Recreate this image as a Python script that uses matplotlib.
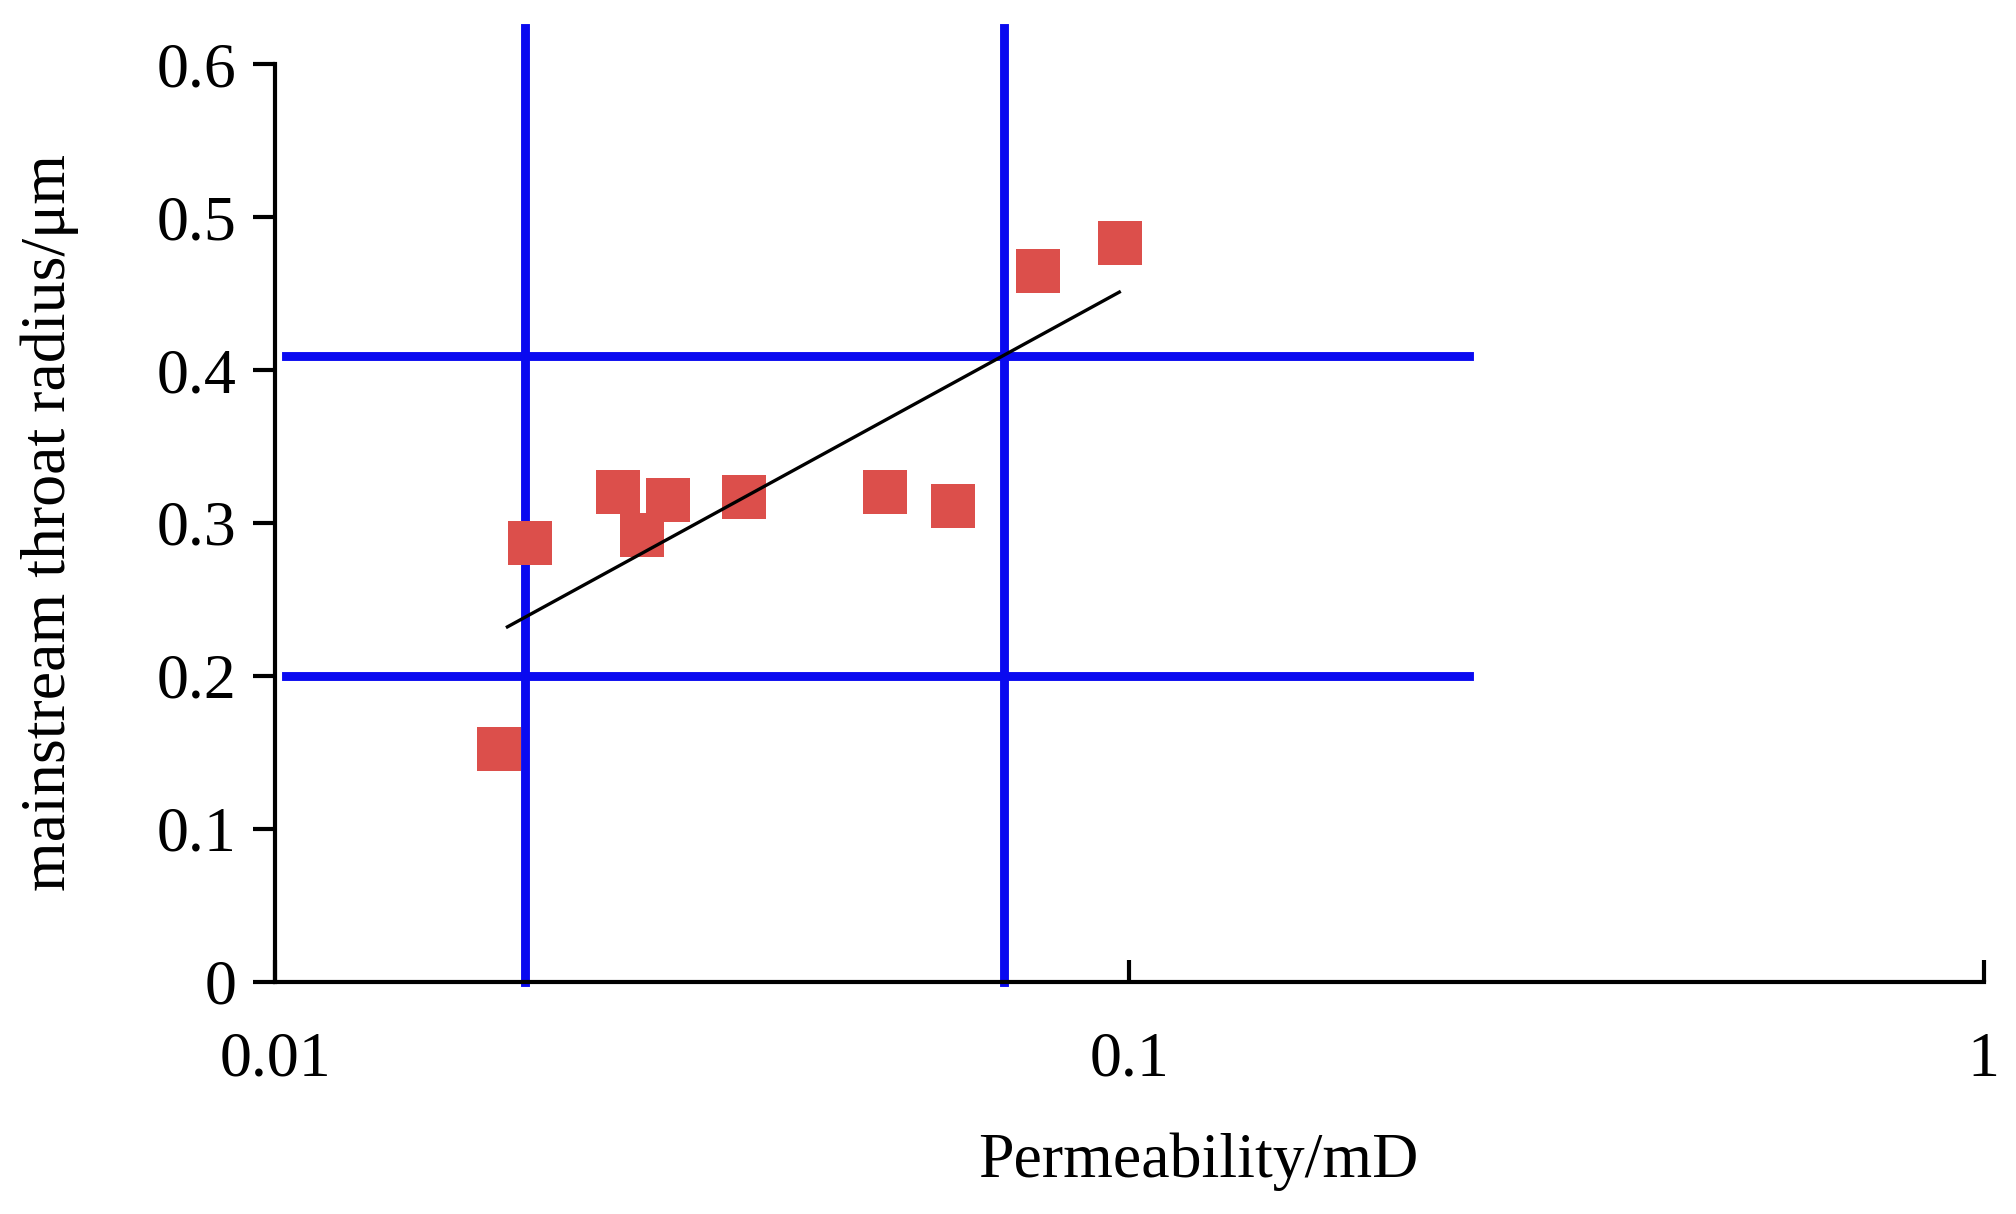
import matplotlib
matplotlib.use("Agg")
import matplotlib.pyplot as plt

perm = [0.0199, 0.0183, 0.0252, 0.0269, 0.0288, 0.0354, 0.0518, 0.0622, 0.0781, 0.0975]
radius = [0.287, 0.152, 0.320, 0.292, 0.315, 0.317, 0.320, 0.311, 0.465, 0.483]
trend_x = [0.0187, 0.0973]
trend_y = [0.232, 0.451]
vlines_x = [0.0196, 0.0713]
hlines_y = [0.409, 0.200]
hline_xspan = [0.0103, 0.25]
xticks = [0.01, 0.1, 1]
xticklabels = ["0.01", "0.1", "1"]
yticks = [0, 0.1, 0.2, 0.3, 0.4, 0.5, 0.6]
yticklabels = ["0", "0.1", "0.2", "0.3", "0.4", "0.5", "0.6"]

plt.rcParams['font.family'] = ['Liberation Serif', 'DejaVu Serif']
fig = plt.figure(figsize=(10.08, 6.07), dpi=200)
ax = fig.add_axes([0.1365, 0.1915, 0.8475, 0.7555])
ax.set_xscale('log')
ax.set_xlim(0.01, 1)
ax.set_ylim(0, 0.6)

for v in vlines_x:
    ax.plot([v, v], [0, 0.624], color='#0a0af0', lw=3.2, clip_on=False, zorder=2)
for h in hlines_y:
    ax.plot(hline_xspan, [h, h], color='#0a0af0', lw=3.2, clip_on=False, zorder=2)
ax.scatter(perm, radius, marker='s', s=240, color='#dc4f4b', zorder=3, linewidths=0)
ax.plot(trend_x, trend_y, color='black', lw=1.2, zorder=4)

for s in ['top', 'right']:
    ax.spines[s].set_visible(False)
for s in ['left', 'bottom']:
    ax.spines[s].set_linewidth(1.5)
ax.set_xticks(xticks)
ax.set_xticklabels(xticklabels)
ax.minorticks_off()
ax.set_yticks(yticks)
ax.set_yticklabels(yticklabels)
ax.tick_params(axis='x', direction='in', length=8, width=1.5, labelsize=23, pad=18)
ax.tick_params(axis='y', direction='out', length=8, width=1.5, labelsize=23, pad=6)
ax.set_xlabel('Permeability/mD', fontsize=23)
ax.xaxis.set_label_coords(0.54, -0.165)
ax.set_ylabel('mainstream throat radius/μm', fontsize=23)
ax.yaxis.set_label_coords(-0.115, 0.5)
fig.savefig('out.png', dpi=200)
